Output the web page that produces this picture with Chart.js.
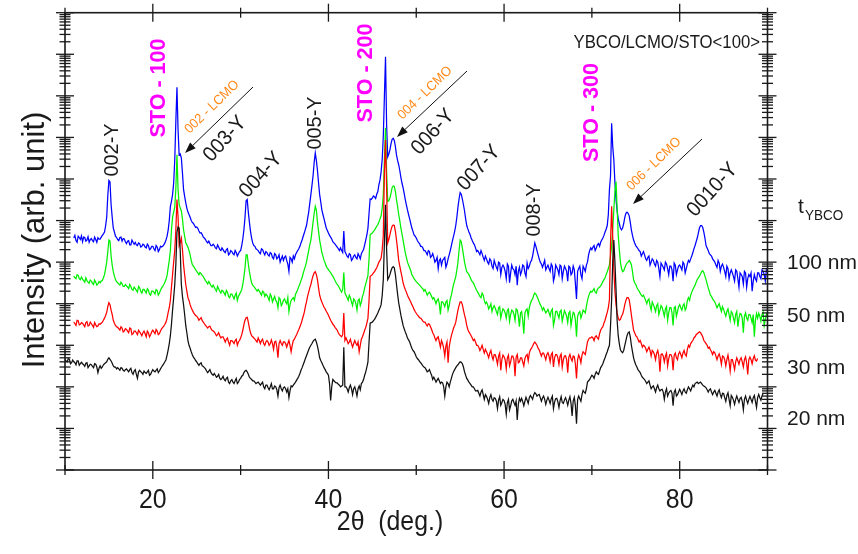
<!DOCTYPE html>
<html><head><meta charset="utf-8">
<script src="https://cdn.jsdelivr.net/npm/chart.js@4.4.1/dist/chart.umd.min.js"></script>
<style>html,body{margin:0;padding:0;background:#fff}#wrap{width:858px;height:554px;position:relative}</style>
</head><body><div id="wrap"><canvas id="c" width="858" height="554"></canvas></div>
<script>
// 2-theta sampling grid A (deg.)
const twoTheta = [
10,10.25,10.5,10.75, 11,11.25,11.5,11.75, 12,12.25,12.5,12.75, 13,13.25,13.5,13.75, 14,14.25,14.5,14.75,
15,15.25,15.5,15.75, 16,16.25,16.5,16.75, 17,17.25,17.5,17.75, 18,18.25,18.5,18.75, 19,19.25,19.5,19.75,
20,20.25,20.5,20.75, 21,21.25,21.5,21.75, 22,22.25,22.5,22.75, 23,23.25,23.5,23.75, 24,24.25,24.5,24.75,
25,25.25,25.5,25.75, 26,26.25,26.5,26.75, 27,27.25,27.5,27.75, 28,28.25,28.5,28.75, 29,29.25,29.5,29.75,
30,30.25,30.5,30.75, 31,31.25,31.5,31.75, 32,32.25,32.5,32.75, 33,33.25,33.5,33.75, 34,34.25,34.5,34.75,
35,35.25,35.5,35.75, 36,36.25,36.5,36.75, 37,37.25,37.5,37.75, 38,38.25,38.5,38.75, 39,39.25,39.5,39.75,
40,40.25,40.5,40.75, 41,41.25,41.5,41.75, 42,42.25,42.5,42.75, 43,43.25,43.5,43.75, 44,44.25,44.5,44.75,
45,45.25,45.5,45.75, 46,46.25,46.5,46.75, 47,47.25,47.5,47.75, 48,48.25,48.5,48.75, 49,49.25,49.5,49.75,
50,50.25,50.5,50.75, 51,51.25,51.5,51.75, 52,52.25,52.5,52.75, 53,53.25,53.5,53.75, 54,54.25,54.5,54.75,
55,55.25,55.5,55.75, 56,56.25,56.5,56.75, 57,57.25,57.5,57.75, 58,58.25,58.5,58.75, 59,59.25,59.5,59.75,
60,60.25,60.5,60.75, 61,61.25,61.5,61.75, 62,62.25,62.5,62.75, 63,63.25,63.5,63.75, 64,64.25,64.5,64.75,
65,65.25,65.5,65.75, 66,66.25,66.5,66.75, 67,67.25,67.5,67.75, 68,68.25,68.5,68.75, 69,69.25,69.5,69.75,
70,70.25,70.5,70.75, 71,71.25,71.5,71.75, 72,72.25,72.5,72.75, 73,73.25,73.5,73.75, 74,74.25,74.5,74.75,
75,75.25,75.5,75.75, 76,76.25,76.5,76.75, 77,77.25,77.5,77.75, 78,78.25,78.5,78.75, 79,79.25,79.5,79.75,
80,80.25,80.5,80.75, 81,81.25,81.5,81.75, 82,82.25,82.5,82.75, 83,83.25,83.5,83.75, 84,84.25,84.5,84.75,
85,85.25,85.5,85.75, 86,86.25,86.5,86.75, 87,87.25,87.5,87.75, 88,88.25,88.5,88.75, 89,89.25,89.5,89.75,
90];
// 2-theta sampling grid B (deg.), between the grid A points
const twoThetaMid = [
10.125,10.375,10.625,10.875, 11.125,11.375,11.625,11.875, 12.125,12.375,12.625,12.875, 13.125,13.375,13.625,13.875, 14.125,14.375,14.625,14.875,
15.125,15.375,15.625,15.875, 16.125,16.375,16.625,16.875, 17.125,17.375,17.625,17.875, 18.125,18.375,18.625,18.875, 19.125,19.375,19.625,19.875,
20.125,20.375,20.625,20.875, 21.125,21.375,21.625,21.875, 22.125,22.375,22.625,22.875, 23.125,23.375,23.625,23.875, 24.125,24.375,24.625,24.875,
25.125,25.375,25.625,25.875, 26.125,26.375,26.625,26.875, 27.125,27.375,27.625,27.875, 28.125,28.375,28.625,28.875, 29.125,29.375,29.625,29.875,
30.125,30.375,30.625,30.875, 31.125,31.375,31.625,31.875, 32.125,32.375,32.625,32.875, 33.125,33.375,33.625,33.875, 34.125,34.375,34.625,34.875,
35.125,35.375,35.625,35.875, 36.125,36.375,36.625,36.875, 37.125,37.375,37.625,37.875, 38.125,38.375,38.625,38.875, 39.125,39.375,39.625,39.875,
40.125,40.375,40.625,40.875, 41.125,41.375,41.625,41.875, 42.125,42.375,42.625,42.875, 43.125,43.375,43.625,43.875, 44.125,44.375,44.625,44.875,
45.125,45.375,45.625,45.875, 46.125,46.375,46.625,46.875, 47.125,47.375,47.625,47.875, 48.125,48.375,48.625,48.875, 49.125,49.375,49.625,49.875,
50.125,50.375,50.625,50.875, 51.125,51.375,51.625,51.875, 52.125,52.375,52.625,52.875, 53.125,53.375,53.625,53.875, 54.125,54.375,54.625,54.875,
55.125,55.375,55.625,55.875, 56.125,56.375,56.625,56.875, 57.125,57.375,57.625,57.875, 58.125,58.375,58.625,58.875, 59.125,59.375,59.625,59.875,
60.125,60.375,60.625,60.875, 61.125,61.375,61.625,61.875, 62.125,62.375,62.625,62.875, 63.125,63.375,63.625,63.875, 64.125,64.375,64.625,64.875,
65.125,65.375,65.625,65.875, 66.125,66.375,66.625,66.875, 67.125,67.375,67.625,67.875, 68.125,68.375,68.625,68.875, 69.125,69.375,69.625,69.875,
70.125,70.375,70.625,70.875, 71.125,71.375,71.625,71.875, 72.125,72.375,72.625,72.875, 73.125,73.375,73.625,73.875, 74.125,74.375,74.625,74.875,
75.125,75.375,75.625,75.875, 76.125,76.375,76.625,76.875, 77.125,77.375,77.625,77.875, 78.125,78.375,78.625,78.875, 79.125,79.375,79.625,79.875,
80.125,80.375,80.625,80.875, 81.125,81.375,81.625,81.875, 82.125,82.375,82.625,82.875, 83.125,83.375,83.625,83.875, 84.125,84.375,84.625,84.875,
85.125,85.375,85.625,85.875, 86.125,86.375,86.625,86.875, 87.125,87.375,87.625,87.875, 88.125,88.375,88.625,88.875, 89.125,89.375,89.625,89.875];

// Intensity (arb. unit), t_YBCO = 100 nm (blue) on grid A
const int100nm = [
null,null,null,null, 3.8e5,3.3e5,4.2e5,3.5e5, 3.1e5,3.9e5,3.4e5,3.0e5, 3.7e5,3.1e5,3.5e5,3.9e5, 3.6e5,4.4e5,5.3e5,1.2e6,
9.2e6,2.4e6,6.6e5,4.2e5, 3.5e5,3.9e5,3.2e5,3.6e5, 2.8e5,3.3e5,2.6e5,3.0e5, 3.0e5,2.5e5,2.8e5,2.4e5, 2.6e5,2.2e5,2.5e5,2.1e5,
2.4e5,1.9e5,2.3e5,2.0e5, 2.3e5,2.6e5,3.4e5,5.9e5, 2.2e6,4.2e6,2.9e7,1.6e9, 3.8e7,3.2e7,5.6e6,2.7e6, 1.6e6,1.2e6,9.0e5,7.6e5,
7.0e5,5.6e5,5.1e5,4.0e5, 3.5e5,2.9e5,2.8e5,2.5e5, 2.5e5,2.1e5,2.3e5,1.9e5, 2.0e5,1.7e5,2.1e5,1.6e5, 1.8e5,1.5e5,1.7e5,1.6e5,
1.9e5,3.6e5,1.2e6,3.2e6, 9.2e5,3.8e5,2.5e5,2.1e5, 1.9e5,1.6e5,2.0e5,1.5e5, 1.7e5,1.4e5,1.6e5,1.2e5, 1.5e5,1.3e5,1.0e5,1.4e5,
1.3e5,1.1e5,6.0e4,1.2e5, 1.4e5,1.5e5,1.9e5,2.4e5, 3.4e5,5.0e5,7.6e5,1.6e6, 4.2e6,1.2e7,4.2e7,1.6e7, 4.2e6,1.8e6,1.1e6,6.6e5,
5.0e5,4.0e5,3.1e5,2.7e5, 2.3e5,1.9e5,1.9e5,5.6e5, 1.6e5,1.3e5,1.5e5,1.2e5, 1.5e5,1.2e5,1.4e5,1.6e5, 2.0e5,3.4e5,6.6e5,3.3e6,
3.5e6,3.7e6,4.3e6,7.3e6, 1.5e7,1.1e8,8.7e9,3.4e7, 5.0e7,9.0e7,8.5e7,3.8e7, 2.2e7,1.1e7,6.2e6,3.2e6, 1.8e6,1.1e6,6.6e5,4.5e5,
3.8e5,3.0e5,2.4e5,2.2e5, 1.9e5,1.5e5,1.8e5,1.4e5, 1.3e5,1.1e5,7.0e4,1.2e5, 1.1e5,1.3e5,9.0e4,1.5e5, 2.5e5,4.2e5,7.6e5,2.1e6,
4.7e6,3.3e6,1.7e6,7.6e5, 5.3e5,3.8e5,2.9e5,2.2e5, 1.9e5,1.5e5,1.6e5,1.1e5, 1.2e5,9.0e4,1.1e5,7.0e4, 9.0e4,6.5e4,9.5e4,7.5e4,
7.5e4,4.0e4,8.0e4,5.5e4, 7.0e4,5.0e4,2.8e4,7.5e4, 6.0e4,8.0e4,4.5e4,7.0e4, 1.0e5,1.4e5,2.9e5,1.9e5, 1.2e5,9.0e4,9.0e4,6.5e4,
8.5e4,6.0e4,8.0e4,4.5e4, 7.5e4,5.0e4,8.0e4,6.0e4, 7.0e4,3.5e4,7.5e4,5.5e4, 6.5e4,1.3e4,7.0e4,5.0e4, 8.0e4,6.0e4,1.0e5,1.9e5,
2.0e5,2.5e5,2.2e5,2.8e5, 3.0e5,3.8e5,5.3e5,7.6e5, 5.6e6,2.2e8,2.9e7,3.2e6, 1.1e6,6.6e5,6.6e5,1.2e6, 1.6e6,1.3e6,5.9e5,3.4e5,
2.5e5,2.1e5,1.8e5,1.6e5, 1.5e5,1.1e5,1.4e5,1.0e5, 1.1e5,8.0e4,1.0e5,4.5e4, 8.5e4,6.5e4,9.0e4,5.0e4, 8.0e4,3.5e4,8.5e4,6.5e4,
8.5e4,6.5e4,9.0e4,7.0e4, 1.1e5,1.2e5,1.7e5,2.5e5, 3.8e5,6.6e5,7.6e5,5.3e5, 2.5e5,1.9e5,1.5e5,1.2e5, 1.0e5,7.5e4,9.5e4,8.0e4,
7.5e4,4.5e4,7.0e4,5.5e4, 5.5e4,3.5e4,6.0e4,2.5e4, 5.0e4,3.0e4,5.5e4,4.0e4, 4.5e4,2.0e4,5.0e4,3.5e4, 5.5e4,4.0e4,6.0e4,3.5e4,
6.0e4];
// t_YBCO = 100 nm on grid B
const int100nmMid = [
null,null,null,null, 4.4e5,3.0e5,3.9e5,4.3e5, 4.0e5,3.2e5,4.1e5,3.5e5, 3.3e5,4.0e5,3.0e5,3.6e5, 4.0e5,4.8e5,7.5e5,4.0e6,
8.5e6,1.2e6,5.3e5,3.9e5, 3.3e5,4.0e5,3.7e5,3.1e5, 3.2e5,2.6e5,3.4e5,2.7e5, 2.6e5,2.9e5,2.3e5,2.7e5, 2.3e5,2.7e5,2.0e5,2.4e5,
2.1e5,2.5e5,1.8e5,2.4e5, 2.4e5,2.9e5,4.2e5,1.0e6, 2.9e6,8.0e6,2.5e8,1.5e8, 4.0e7,1.4e7,3.8e6,2.0e6, 1.4e6,1.0e6,8.5e5,6.8e5,
6.5e5,5.0e5,4.6e5,3.8e5, 3.1e5,3.2e5,2.5e5,2.7e5, 2.2e5,2.6e5,2.0e5,2.2e5, 1.8e5,2.0e5,1.5e5,1.9e5, 1.6e5,1.9e5,1.4e5,1.8e5,
2.5e5,6.0e5,3.0e6,1.6e6, 5.5e5,2.9e5,2.4e5,2.0e5, 1.7e5,2.1e5,1.7e5,1.8e5, 1.5e5,1.7e5,1.3e5,1.6e5, 1.2e5,1.5e5,1.2e5,1.1e5,
1.4e5,9.0e4,1.3e5,1.0e5, 1.2e5,1.7e5,2.1e5,2.9e5, 4.2e5,6.2e5,1.1e6,2.6e6, 7.0e6,2.5e7,2.8e7,8.0e6, 2.8e6,1.4e6,8.5e5,5.8e5,
4.4e5,3.6e5,2.9e5,2.5e5, 2.1e5,2.2e5,1.7e5,1.8e5, 1.4e5,1.6e5,1.1e5,1.4e5, 1.3e5,1.6e5,1.2e5,1.8e5, 2.6e5,4.5e5,1.5e6,3.2e6,
3.9e6,3.4e6,5.0e6,9.5e6, 3.0e7,1.0e9,2.0e8,4.0e7, 7.0e7,9.5e7,6.0e7,2.8e7, 1.6e7,8.0e6,4.5e6,2.4e6, 1.4e6,8.5e5,5.5e5,4.2e5,
3.3e5,2.8e5,2.4e5,1.9e5, 1.7e5,1.9e5,1.3e5,1.6e5, 1.0e5,1.3e5,1.1e5,8.5e4, 1.2e5,7.5e4,1.2e5,1.9e5, 3.3e5,5.5e5,1.2e6,3.3e6,
4.3e6,2.4e6,1.1e6,6.3e5, 4.6e5,3.3e5,2.6e5,1.8e5, 1.7e5,1.9e5,1.3e5,1.4e5, 1.0e5,1.2e5,8.0e4,1.1e5, 7.5e4,1.0e5,5.0e4,8.5e4,
6.0e4,9.0e4,3.2e4,8.5e4, 6.5e4,8.0e4,6.0e4,5.0e4, 8.5e4,5.5e4,9.5e4,8.0e4, 1.1e5,2.0e5,2.4e5,1.5e5, 1.0e5,7.5e4,1.1e5,7.5e4,
7.0e4,9.0e4,3.5e4,8.5e4, 6.5e4,8.5e4,4.0e4,8.0e4, 6.0e4,8.0e4,5.0e4,8.0e4, 3.0e4,6.0e4,8.0e4,4.0e4, 7.0e4,8.5e4,1.5e5,2.2e5,
2.3e5,1.9e5,2.6e5,2.4e5, 3.4e5,4.4e5,6.2e5,1.4e6, 1.2e7,6.0e7,8.0e6,1.7e6, 8.5e5,6.0e5,8.5e5,1.5e6, 1.5e6,9.0e5,4.4e5,2.9e5,
2.3e5,1.9e5,1.4e5,1.8e5, 1.2e5,1.3e5,8.5e4,1.2e5, 9.0e4,1.1e5,7.0e4,9.5e4, 7.5e4,1.0e5,7.0e4,8.0e4, 6.5e4,9.5e4,5.0e4,8.0e4,
7.5e4,1.0e5,5.5e4,9.0e4, 1.0e5,1.4e5,2.1e5,3.1e5, 5.0e5,7.6e5,6.8e5,3.8e5, 2.2e5,1.6e5,1.4e5,1.1e5, 8.5e4,1.1e5,6.0e4,9.0e4,
6.0e4,8.0e4,4.0e4,6.5e4, 4.5e4,6.5e4,4.0e4,5.5e4, 4.5e4,6.0e4,2.5e4,5.0e4, 5.5e4,3.5e4,4.0e4,5.5e4, 4.5e4,6.5e4,5.0e4,6.5e4];

// t_YBCO = 50 nm (green) on grid A
const int50nm = [
null,null,null,null, 4.6e4,4.0e4,4.8e4,3.8e4, 3.9e4,3.3e4,3.6e4,3.1e4, 3.5e4,2.9e4,3.3e4,3.0e4, 3.2e4,3.6e4,5.0e4,1.0e5,
3.4e5,1.4e5,5.9e4,3.8e4, 3.2e4,2.8e4,3.0e4,2.6e4, 2.7e4,2.3e4,2.6e4,2.1e4, 2.3e4,1.9e4,2.4e4,1.8e4, 2.2e4,1.8e4,2.1e4,1.6e4,
2.0e4,1.7e4,2.1e4,1.8e4, 2.4e4,2.9e4,3.8e4,7.3e4, 1.9e5,1.2e6,2.1e6,3.8e7, 2.4e6,1.7e6,6.0e5,2.9e5, 2.3e5,1.5e5,8.7e4,7.3e4,
6.0e4,5.0e4,5.3e4,4.5e4, 3.6e4,3.0e4,3.1e4,2.5e4, 2.5e4,2.0e4,2.3e4,1.8e4, 2.0e4,1.6e4,1.9e4,1.4e4, 1.7e4,1.3e4,1.8e4,1.5e4,
1.9e4,2.9e4,7.3e4,1.5e5, 5.9e4,3.2e4,2.6e4,2.2e4, 2.2e4,1.8e4,2.0e4,1.5e4, 1.6e4,1.2e4,1.5e4,1.3e4, 1.2e4,8.0e3,1.3e4,1.0e4,
1.3e4,1.0e4,6.5e3,1.2e4, 1.4e4,1.7e4,2.2e4,3.0e4, 4.2e4,6.6e4,1.0e5,1.9e5, 3.4e5,9.2e5,2.2e6,9.2e5, 3.4e5,1.7e5,1.1e5,8.0e4,
6.6e4,5.6e4,4.6e4,3.6e4, 2.9e4,2.4e4,1.9e4,5.6e4, 1.6e4,1.2e4,1.4e4,9.0e3, 1.2e4,7.0e3,1.3e4,1.1e4, 1.8e4,3.0e4,4.8e4,4.5e5,
5.0e5,5.9e5,7.3e5,9.2e5, 1.3e6,4.2e6,1.7e8,2.9e6, 3.5e6,6.2e6,6.6e6,3.2e6, 1.4e6,6.6e5,3.4e5,1.7e5, 1.0e5,7.3e4,5.0e4,4.0e4,
3.4e4,3.0e4,2.6e4,2.3e4, 2.2e4,1.6e4,1.9e4,1.5e4, 1.4e4,1.0e4,1.3e4,5.5e3, 1.1e4,8.5e3,1.2e4,9.0e3, 1.6e4,2.9e4,4.5e4,1.0e5,
3.4e5,2.2e5,1.0e5,5.9e4, 5.0e4,3.8e4,3.2e4,2.4e4, 1.9e4,1.5e4,1.8e4,1.2e4, 1.1e4,7.5e3,1.0e4,8.0e3, 7.8e3,5.5e3,8.5e3,6.0e3,
7.0e3,4.5e3,7.5e3,5.5e3, 6.6e3,4.0e3,7.0e3,2.8e3, 6.5e3,1.9e3,7.0e3,5.0e3, 1.0e4,1.3e4,1.8e4,1.5e4, 1.1e4,8.5e3,8.0e3,6.0e3,
7.3e3,5.0e3,7.5e3,4.0e3, 6.6e3,4.5e3,7.0e3,5.0e3, 6.0e3,3.5e3,6.5e3,4.5e3, 5.8e3,1.6e3,6.0e3,4.5e3, 7.0e3,6.0e3,1.2e4,1.8e4,
1.9e4,2.3e4,1.8e4,2.4e4, 2.7e4,3.4e4,4.2e4,5.9e4, 8.7e4,2.5e5,1.8e6,8.7e6, 4.5e5,1.0e5,5.9e4,7.3e4, 9.5e4,1.1e5,8.7e4,3.8e4,
2.9e4,2.2e4,1.8e4,1.5e4, 1.4e4,1.0e4,1.3e4,7.0e3, 9.5e3,6.5e3,1.0e4,7.0e3, 8.2e3,5.0e3,8.5e3,6.0e3, 8.0e3,3.0e3,8.5e3,6.5e3,
9.5e3,7.0e3,1.0e4,8.0e3, 1.4e4,1.6e4,2.2e4,2.8e4, 3.8e4,4.6e4,5.9e4,5.6e4, 3.8e4,2.4e4,1.6e4,1.3e4, 1.1e4,8.0e3,1.0e4,6.5e3,
7.3e3,5.0e3,7.5e3,4.0e3, 5.9e3,3.5e3,6.5e3,4.5e3, 5.6e3,2.0e3,6.0e3,4.0e3, 5.5e3,3.5e3,1.6e3,5.8e3, 5.9e3,3.8e3,6.3e3,4.2e3,
6.2e3];
// t_YBCO = 50 nm on grid B
const int50nmMid = [
null,null,null,null, 4.2e4,5.0e4,4.0e4,4.4e4, 3.6e4,4.2e4,3.3e4,3.7e4, 3.1e4,3.7e4,2.8e4,3.4e4, 3.5e4,4.2e4,7.0e4,1.8e5,
3.2e5,8.5e4,4.6e4,3.4e4, 3.0e4,3.3e4,2.6e4,2.9e4, 2.5e4,2.9e4,2.2e4,2.5e4, 2.1e4,2.6e4,2.0e4,2.2e4, 2.0e4,2.3e4,1.7e4,2.0e4,
1.9e4,2.2e4,1.6e4,2.1e4, 2.6e4,3.3e4,4.8e4,1.1e5, 6.0e5,1.6e6,6.0e6,5.6e6, 2.0e6,1.1e6,4.2e5,2.6e5, 1.9e5,1.1e5,8.0e4,6.6e4,
5.5e4,5.6e4,4.8e4,4.0e4, 3.3e4,3.4e4,2.7e4,2.8e4, 2.2e4,2.6e4,2.0e4,2.1e4, 1.8e4,2.1e4,1.5e4,1.7e4, 1.5e4,1.6e4,1.2e4,1.7e4,
2.2e4,4.5e4,1.5e5,9.0e4, 4.2e4,2.8e4,2.4e4,2.0e4, 2.0e4,1.6e4,1.9e4,1.7e4, 1.4e4,1.7e4,1.1e4,1.5e4, 1.1e4,1.4e4,9.0e3,1.2e4,
1.1e4,1.4e4,9.5e3,1.3e4, 1.2e4,1.9e4,2.6e4,3.6e4, 5.4e4,8.0e4,1.4e5,2.6e5, 5.5e5,1.5e6,1.8e6,5.5e5, 2.4e5,1.4e5,9.5e4,7.2e4,
6.0e4,5.0e4,4.1e4,3.2e4, 2.7e4,2.1e4,2.2e4,1.8e4, 1.4e4,1.6e4,1.1e4,1.3e4, 1.0e4,1.2e4,9.0e3,1.5e4, 2.4e4,3.8e4,1.2e5,4.8e5,
5.5e5,6.6e5,8.0e5,1.1e6, 2.0e6,3.0e7,1.5e7,3.0e6, 4.5e6,6.8e6,5.0e6,2.2e6, 1.0e6,4.8e5,2.4e5,1.3e5, 8.5e4,6.2e4,4.5e4,3.7e4,
3.2e4,2.8e4,2.4e4,2.0e4, 1.9e4,1.8e4,1.7e4,1.3e4, 1.2e4,1.2e4,1.0e4,1.1e4, 1.0e4,1.1e4,7.0e3,1.3e4, 2.2e4,3.6e4,6.5e4,1.9e5,
3.1e5,1.5e5,7.5e4,5.5e4, 4.4e4,3.4e4,2.8e4,2.1e4, 1.7e4,1.4e4,1.6e4,1.0e4, 9.5e3,8.5e3,6.5e3,9.0e3, 6.5e3,8.0e3,4.5e3,7.5e3,
6.0e3,7.0e3,3.8e3,7.0e3, 5.5e3,7.5e3,5.0e3,6.0e3, 4.0e3,6.0e3,7.5e3,8.0e3, 1.2e4,1.6e4,1.7e4,1.3e4, 9.5e3,7.0e3,7.0e3,6.5e3,
6.0e3,6.8e3,3.0e3,6.5e3, 5.5e3,6.5e3,3.8e3,6.8e3, 5.0e3,6.0e3,3.0e3,6.2e3, 4.0e3,5.0e3,6.5e3,5.5e3, 6.5e3,8.5e3,1.5e4,2.0e4,
2.1e4,1.9e4,2.2e4,2.5e4, 3.0e4,3.8e4,5.0e4,7.0e4, 1.4e5,6.0e5,5.0e6,2.0e6, 2.0e5,7.0e4,6.2e4,8.5e4, 1.0e5,1.0e5,6.0e4,3.2e4,
2.5e4,2.0e4,1.6e4,1.6e4, 1.2e4,1.2e4,9.0e3,1.1e4, 8.0e3,9.0e3,5.5e3,9.0e3, 6.5e3,7.5e3,4.0e3,8.0e3, 6.0e3,8.0e3,5.0e3,8.5e3,
8.0e3,9.0e3,7.0e3,1.2e4, 1.2e4,1.9e4,2.5e4,3.3e4, 4.2e4,5.2e4,6.2e4,4.6e4, 3.0e4,2.0e4,1.5e4,1.2e4, 9.5e3,9.0e3,8.0e3,8.5e3,
6.0e3,6.5e3,5.5e3,6.5e3, 4.5e3,5.5e3,2.8e3,5.8e3, 4.5e3,5.0e3,4.5e3,5.5e3, 4.5e3,5.5e3,4.0e3,4.5e3, 5.0e3,5.5e3,3.0e3,5.5e3];

// t_YBCO = 30 nm (red) on grid A
const int30nm = [
null,null,null,null, 3.6e3,3.0e3,3.9e3,3.2e3, 3.4e3,2.8e3,3.7e3,3.0e3, 3.3e3,2.7e3,3.1e3,2.9e3, 3.2e3,3.6e3,4.5e3,6.2e3,
1.06e4,7.0e3,4.0e3,3.0e3, 2.7e3,2.3e3,2.6e3,2.2e3, 2.4e3,2.0e3,2.5e3,1.9e3, 2.2e3,1.8e3,2.1e3,1.7e3, 2.2e3,1.6e3,2.0e3,1.8e3,
2.3e3,1.9e3,2.2e3,1.9e3, 2.5e3,2.9e3,3.6e3,6.2e3, 1.2e4,5.0e4,1.9e5,3.2e6, 2.5e5,3.8e5,8.7e4,2.9e4, 1.4e4,9.5e3,7.0e3,5.6e3,
5.0e3,4.0e3,4.6e3,3.6e3, 3.0e3,2.6e3,2.9e3,2.3e3, 2.1e3,1.7e3,2.0e3,1.5e3, 1.6e3,1.2e3,1.5e3,1.0e3, 1.3e3,1.1e3,1.4e3,1.2e3,
1.5e3,2.3e3,4.0e3,4.7e3, 2.6e3,1.7e3,1.5e3,1.3e3, 1.5e3,1.1e3,1.4e3,1.0e3, 1.3e3,1.0e3,1.35e3,8.0e2, 1.25e3,5.0e2,1.3e3,1.0e3,
1.2e3,9.0e2,1.3e3,7.0e2, 1.3e3,1.6e3,2.1e3,2.8e3, 4.0e3,6.2e3,1.1e4,1.9e4, 2.9e4,4.7e4,5.9e4,3.8e4, 1.6e4,1.1e4,8.2e3,6.6e3,
5.3e3,4.0e3,3.2e3,2.7e3, 2.3e3,1.8e3,1.6e3,6.0e3, 1.5e3,1.1e3,1.4e3,9.0e2, 1.3e3,1.0e3,7.0e2,1.4e3, 1.9e3,2.7e3,4.5e3,4.5e4,
5.0e4,5.9e4,7.3e4,1.0e5, 1.25e5,4.5e5,8.7e7,2.9e5, 4.5e5,7.3e5,7.6e5,3.4e5, 1.1e5,5.9e4,3.2e4,2.2e4, 1.6e4,1.25e4,9.5e3,7.3e3,
5.9e3,5.0e3,4.5e3,3.8e3, 3.6e3,2.9e3,3.2e3,2.4e3, 1.8e3,1.3e3,1.6e3,9.0e2, 1.1e3,5.5e2,1.2e3,9.0e2, 1.7e3,2.6e3,3.6e3,7.0e3,
1.1e4,9.5e3,5.3e3,3.0e3, 2.1e3,1.7e3,1.3e3,1.2e3, 1.0e3,7.5e2,1.0e3,6.5e2, 7.0e2,5.0e2,7.5e2,4.5e2, 5.9e2,3.5e2,6.5e2,4.5e2,
5.3e2,2.7e2,5.8e2,4.0e2, 5.5e2,1.8e2,6.0e2,4.0e2, 5.0e2,3.2e2,5.6e2,4.2e2, 7.8e2,9.5e2,1.2e3,1.0e3, 7.8e2,5.5e2,6.5e2,4.5e2,
6.6e2,4.0e2,6.6e2,5.0e2, 6.0e2,3.5e2,6.2e2,4.5e2, 5.6e2,2.2e2,6.0e2,4.2e2, 5.3e2,1.6e2,5.8e2,3.8e2, 7.0e2,6.0e2,1.2e3,1.5e3,
1.6e3,1.3e3,1.7e3,1.4e3, 2.3e3,2.8e3,4.0e3,6.2e3, 1.25e4,2.2e6,6.6e4,9.5e3, 4.5e3,4.2e3,5.6e3,9.5e3, 1.4e4,1.25e4,5.3e3,2.3e3,
1.7e3,1.4e3,1.3e3,9.0e2, 9.5e2,7.0e2,9.0e2,5.5e2, 7.0e2,4.5e2,7.5e2,2.3e2, 6.2e2,4.0e2,6.5e2,4.8e2, 6.0e2,2.5e2,6.5e2,4.5e2,
7.0e2,5.0e2,7.5e2,5.5e2, 1.0e3,1.1e3,1.3e3,1.6e3, 1.9e3,2.1e3,1.8e3,1.3e3, 1.1e3,8.5e2,7.8e2,6.0e2, 6.6e2,4.5e2,6.2e2,3.5e2,
5.3e2,3.2e2,5.8e2,2.4e2, 4.5e2,2.6e2,5.0e2,3.5e2, 5.0e2,3.0e2,5.3e2,2.0e2, 5.2e2,3.6e2,5.6e2,4.2e2, null,null,null,null,
null];
// t_YBCO = 30 nm on grid B
const int30nmMid = [
null,null,null,null, 3.3e3,4.0e3,3.1e3,3.5e3, 3.1e3,3.5e3,2.9e3,3.6e3, 3.0e3,3.5e3,2.8e3,3.3e3, 3.4e3,4.0e3,5.2e3,8.5e3,
9.5e3,5.5e3,3.4e3,2.8e3, 2.5e3,2.8e3,2.1e3,2.5e3, 2.2e3,2.6e3,1.8e3,2.2e3, 2.0e3,2.3e3,1.9e3,2.0e3, 1.9e3,2.2e3,1.6e3,2.1e3,
2.1e3,2.4e3,1.8e3,2.2e3, 2.7e3,3.2e3,4.5e3,8.0e3, 2.5e4,1.0e5,6.0e5,1.2e6, 3.0e5,2.0e5,5.0e4,2.0e4, 1.2e4,8.0e3,6.2e3,5.2e3,
4.6e3,4.3e3,3.9e3,3.3e3, 2.8e3,2.8e3,2.5e3,2.2e3, 1.9e3,1.8e3,1.7e3,1.6e3, 1.4e3,1.4e3,1.2e3,1.3e3, 1.2e3,1.3e3,1.0e3,1.3e3,
1.8e3,3.2e3,4.6e3,3.6e3, 2.0e3,1.6e3,1.4e3,1.2e3, 1.3e3,1.3e3,1.1e3,1.2e3, 1.2e3,1.1e3,1.1e3,1.2e3, 9.0e2,1.1e3,1.1e3,1.2e3,
1.1e3,1.1e3,1.0e3,1.0e3, 1.4e3,1.8e3,2.4e3,3.3e3, 5.0e3,8.5e3,1.5e4,2.4e4, 3.8e4,5.5e4,5.0e4,2.4e4, 1.3e4,9.5e3,7.5e3,6.0e3,
4.6e3,3.6e3,3.0e3,2.5e3, 2.0e3,1.7e3,1.8e3,1.3e3, 1.3e3,1.2e3,1.1e3,1.1e3, 1.1e3,1.2e3,1.0e3,1.6e3, 2.3e3,3.4e3,1.2e4,4.8e4,
5.5e4,6.6e4,8.5e4,1.1e5, 2.0e5,1.5e7,6.0e6,3.5e5, 6.0e5,7.8e5,5.5e5,2.0e5, 8.0e4,4.4e4,2.6e4,1.9e4, 1.4e4,1.1e4,8.5e3,6.5e3,
5.4e3,4.6e3,4.2e3,3.6e3, 3.2e3,3.3e3,2.8e3,2.0e3, 1.5e3,1.5e3,1.2e3,1.3e3, 8.5e2,9.5e2,3.8e2,1.3e3, 2.1e3,3.0e3,5.0e3,9.0e3,
1.1e4,7.0e3,4.2e3,2.4e3, 1.9e3,1.5e3,1.4e3,1.0e3, 9.0e2,8.5e2,8.0e2,8.0e2, 6.0e2,6.5e2,5.5e2,6.0e2, 4.8e2,5.5e2,2.5e2,5.8e2,
4.5e2,5.0e2,3.2e2,5.5e2, 4.5e2,5.2e2,3.8e2,5.0e2, 4.0e2,4.8e2,6.0e2,6.5e2, 8.5e2,1.1e3,1.1e3,8.5e2, 6.5e2,6.5e2,5.5e2,6.0e2,
5.5e2,6.0e2,3.0e2,6.0e2, 5.0e2,5.5e2,3.0e2,5.5e2, 4.5e2,5.2e2,4.8e2,5.5e2, 3.5e2,4.5e2,5.0e2,5.8e2, 6.5e2,8.5e2,1.4e3,1.5e3,
1.5e3,1.6e3,1.5e3,1.9e3, 2.6e3,3.4e3,5.0e3,8.0e3, 3.0e5,4.0e5,2.0e4,6.0e3, 4.0e3,5.0e3,7.0e3,1.2e4, 1.4e4,8.5e3,3.5e3,2.0e3,
1.6e3,1.2e3,1.1e3,1.0e3, 8.5e2,8.0e2,7.5e2,7.5e2, 6.0e2,6.5e2,5.5e2,6.0e2, 5.5e2,5.5e2,3.2e2,6.0e2, 5.2e2,5.8e2,5.0e2,6.2e2,
6.0e2,6.5e2,6.0e2,8.0e2, 9.0e2,1.2e3,1.5e3,1.8e3, 2.0e3,2.0e3,1.6e3,1.2e3, 1.0e3,9.0e2,7.0e2,7.0e2, 5.5e2,5.5e2,5.0e2,5.5e2,
4.5e2,4.5e2,4.0e2,4.5e2, 3.5e2,4.0e2,4.2e2,4.5e2, 4.0e2,4.5e2,3.8e2,4.5e2, 4.5e2,4.8e2,4.4e2,4.8e2, null,null,null,null];

// t_YBCO = 20 nm (black) on grid A
const int20nm = [
4.5e2,4.0e2,4.6e2,3.8e2, 4.0e2,3.4e2,4.2e2,3.6e2, 3.6e2,3.1e2,3.8e2,3.2e2, 3.4e2,2.9e2,3.5e2,2.2e2, 3.2e2,3.0e2,3.6e2,4.0e2,
5.0e2,4.2e2,3.2e2,3.0e2, 2.9e2,2.5e2,2.8e2,2.4e2, 2.7e2,2.3e2,2.8e2,2.0e2, 2.6e2,1.6e2,2.5e2,2.2e2, 2.4e2,2.1e2,2.5e2,2.0e2,
2.6e2,2.3e2,2.7e2,2.4e2, 3.0e2,3.6e2,4.5e2,7.8e2, 1.7e3,7.0e3,2.9e4,5.3e5, 6.6e5,2.9e4,9.5e3,3.0e3, 1.3e3,8.5e2,5.9e2,4.8e2,
4.0e2,3.3e2,3.8e2,3.1e2, 2.7e2,2.2e2,2.6e2,2.0e2, 2.1e2,1.7e2,2.0e2,1.5e2, 1.8e2,1.4e2,1.7e2,1.2e2, 1.5e2,1.2e2,1.6e2,1.3e2,
1.6e2,1.9e2,2.4e2,2.3e2, 1.7e2,1.5e2,1.4e2,1.2e2, 1.3e2,1.1e2,1.3e2,9.0e1, 1.1e2,8.5e1,1.2e2,9.0e1, 1.0e2,6.0e1,1.1e2,8.0e1,
1.0e2,7.5e1,5.5e1,1.05e2, 1.1e2,1.3e2,1.6e2,2.1e2, 2.9e2,4.0e2,5.6e2,7.8e2, 1.0e3,1.25e3,1.4e3,9.5e2, 5.0e2,3.8e2,2.9e2,2.3e2,
1.9e2,4.7e1,1.5e2,1.3e2, 1.25e2,1.1e2,1.05e2,9.0e2, 1.0e2,7.5e1,1.1e2,6.5e1, 1.0e2,6.0e1,1.05e2,1.2e2, 1.5e2,2.3e2,4.0e2,3.4e3,
3.6e3,4.2e3,5.3e3,7.0e3, 9.5e3,3.8e4,2.4e6,3.8e4, 5.0e4,7.3e4,7.3e4,2.9e4, 1.06e4,5.3e3,3.0e3,2.1e3, 1.5e3,1.2e3,8.5e2,7.0e2,
5.3e2,4.5e2,3.8e2,3.2e2, 2.9e2,2.3e2,2.6e2,1.9e2, 1.7e2,1.3e2,1.6e2,1.2e2, 1.25e2,6.0e1,1.3e2,1.0e2, 1.6e2,2.3e2,2.9e2,3.4e2,
4.0e2,3.6e2,2.3e2,1.6e2, 1.3e2,1.1e2,1.0e2,8.0e1, 8.2e1,6.0e1,8.5e1,5.0e1, 5.9e1,4.0e1,6.5e1,4.5e1, 5.3e1,3.0e1,5.8e1,4.2e1,
4.7e1,2.2e1,5.0e1,3.5e1, 5.0e1,3.6e1,1.6e1,5.3e1, 5.3e1,3.5e1,5.6e1,4.0e1, 6.2e1,5.0e1,7.3e1,6.0e1, 6.6e1,4.5e1,6.0e1,3.8e1,
5.6e1,4.0e1,6.0e1,4.3e1, 5.3e1,3.2e1,5.8e1,4.0e1, 5.5e1,3.6e1,5.8e1,2.0e1, 5.6e1,1.3e1,6.0e1,4.5e1, 8.2e1,7.0e1,1.3e2,1.5e2,
1.9e2,1.6e2,2.3e2,2.0e2, 2.9e2,3.6e2,5.0e2,7.0e2, 1.0e3,1.25e4,3.4e5,2.2e4, 1.7e3,7.8e2,6.6e2,1.0e3, 1.7e3,2.1e3,1.0e3,5.0e2,
3.4e2,2.6e2,2.2e2,1.7e2, 1.5e2,1.2e2,1.4e2,9.0e1, 1.06e2,7.5e1,1.1e2,8.0e1, 8.7e1,5.0e1,9.0e1,7.0e1, 8.2e1,3.5e1,8.5e1,6.5e1,
8.7e1,6.5e1,9.0e1,7.0e1, 1.0e2,8.0e1,1.1e2,1.2e2, 1.3e2,1.25e2,1.2e2,1.05e2, 9.5e1,7.5e1,9.0e1,6.5e1, 8.2e1,6.0e1,8.5e1,5.5e1,
6.9e1,4.5e1,7.2e1,3.5e1, 5.6e1,3.8e1,6.0e1,4.2e1, 5.6e1,2.8e1,6.0e1,4.0e1, 5.9e1,4.2e1,6.2e1,3.2e1, 6.6e1,4.8e1,6.9e1,null,
null];
// t_YBCO = 20 nm on grid B
const int20nmMid = [
4.2e2,4.8e2,3.6e2,4.4e2, 3.8e2,4.2e2,3.3e2,3.9e2, 3.4e2,3.7e2,2.9e2,3.5e2, 3.1e2,3.6e2,3.0e2,2.8e2, 2.8e2,3.4e2,3.8e2,4.6e2,
4.6e2,3.7e2,3.0e2,2.7e2, 2.7e2,2.9e2,2.5e2,2.6e2, 2.5e2,2.6e2,2.2e2,2.4e2, 2.0e2,2.3e2,2.3e2,2.0e2, 2.2e2,2.3e2,1.9e2,2.3e2,
2.4e2,2.5e2,2.2e2,2.7e2, 3.3e2,4.0e2,5.8e2,1.1e3, 3.2e3,1.4e4,9.0e4,7.0e5, 1.8e5,1.5e4,5.5e3,2.0e3, 1.0e3,7.0e2,5.2e2,4.3e2,
3.6e2,3.6e2,3.2e2,2.9e2, 2.4e2,2.4e2,2.2e2,1.9e2, 1.9e2,1.8e2,1.6e2,1.6e2, 1.5e2,1.6e2,1.3e2,1.4e2, 1.3e2,1.4e2,1.2e2,1.5e2,
1.8e2,2.2e2,2.5e2,2.0e2, 1.6e2,1.4e2,1.3e2,1.25e2, 1.2e2,1.2e2,1.0e2,1.1e2, 9.5e1,1.0e2,9.0e1,1.05e2, 8.5e1,9.5e1,9.0e1,9.5e1,
9.0e1,9.0e1,8.0e1,1.0e2, 1.2e2,1.45e2,1.8e2,2.5e2, 3.4e2,4.8e2,6.6e2,9.0e2, 1.1e3,1.35e3,1.2e3,7.0e2, 4.3e2,3.3e2,2.6e2,2.1e2,
1.2e2,1.0e2,1.4e2,1.25e2, 1.15e2,1.0e2,1.1e2,1.0e2, 9.0e1,9.5e1,9.0e1,9.0e1, 8.0e1,9.0e1,8.5e1,1.3e2, 1.9e2,3.0e2,1.2e3,3.5e3,
3.9e3,4.7e3,6.0e3,8.0e3, 1.6e4,3.0e5,2.0e5,4.3e4, 6.2e4,7.8e4,5.0e4,1.7e4, 7.5e3,4.0e3,2.5e3,1.8e3, 1.35e3,1.0e3,7.5e2,6.2e2,
4.8e2,4.1e2,3.5e2,3.0e2, 2.6e2,2.4e2,2.2e2,1.5e2, 1.5e2,1.45e2,1.4e2,1.3e2, 1.0e2,1.0e2,1.2e2,1.3e2, 2.0e2,2.6e2,3.2e2,3.7e2,
3.9e2,3.0e2,1.9e2,1.45e2, 1.2e2,1.0e2,9.0e1,8.0e1, 7.0e1,7.5e1,6.5e1,6.5e1, 5.0e1,5.5e1,5.0e1,5.5e1, 4.5e1,4.8e1,3.6e1,5.0e1,
3.8e1,4.2e1,2.8e1,4.6e1, 4.2e1,4.6e1,3.8e1,4.5e1, 4.4e1,4.5e1,4.8e1,5.5e1, 5.6e1,6.4e1,6.8e1,6.4e1, 5.5e1,5.4e1,5.0e1,4.8e1,
4.8e1,5.2e1,3.0e1,5.2e1, 4.4e1,4.6e1,4.2e1,4.8e1, 4.6e1,4.8e1,4.0e1,4.6e1, 3.5e1,5.0e1,5.2e1,6.5e1, 7.5e1,9.0e1,1.4e2,1.7e2,
1.8e2,2.0e2,2.1e2,2.4e2, 3.2e2,4.3e2,6.0e2,8.5e2, 3.0e3,1.0e5,1.0e5,4.0e3, 1.1e3,7.0e2,7.5e2,1.3e3, 2.0e3,1.6e3,7.0e2,4.0e2,
3.0e2,2.4e2,1.9e2,1.6e2, 1.35e2,1.3e2,1.1e2,1.0e2, 9.0e1,9.5e1,9.0e1,8.5e1, 7.5e1,7.5e1,6.0e1,7.8e1, 7.0e1,7.5e1,6.0e1,7.5e1,
7.6e1,8.0e1,7.5e1,8.5e1, 9.0e1,9.5e1,1.0e2,1.25e2, 1.2e2,1.3e2,1.1e2,1.0e2, 8.5e1,8.5e1,7.5e1,7.5e1, 7.0e1,7.5e1,6.5e1,7.0e1,
5.5e1,6.2e1,5.0e1,6.2e1, 4.8e1,5.0e1,5.0e1,5.2e1, 4.5e1,5.0e1,4.8e1,5.0e1, 5.0e1,5.5e1,4.5e1,5.5e1, 5.5e1,6.0e1,null,null];

const seriesLabels = ['20 nm','30 nm','50 nm','100 nm'];
const xMajorTicks = [20, 40, 60, 80];
const xMinorTicks = [10, 30, 50, 70, 90];
const xTickLabels = ['20', '40', '60', '80'];
const yDecades = [1,1e1,1e2,1e3,1e4,1e5,1e6,1e7,1e8,1e9,1e10,1e11];
const yMinorMultipliers = [2,3,4,5,6,7,8,9];

const FONT = '"Liberation Sans", Arial, Helvetica, sans-serif';
// combine the two sampling grids of one series into a single point list ordered by 2-theta
const pts = (a, b) => twoTheta.map((t, i) => ({x: t, y: a[i]}))
  .concat(twoThetaMid.map((t, i) => ({x: t, y: b[i]})))
  .sort((p, q) => p.x - q.x);

// annotation texts (pixel layout)
const texts = [
  {s:'002-Y', x:112, y:150, size:21, rot:-90, sx:0.95},
  {s:'STO - 100', x:158.5, y:88, size:22, rot:-90, bold:true, color:'#ff00ff', sx:0.98},
  {s:'002 - LCMO', x:212, y:107, size:13.5, rot:-44, color:'#ff8a1a', sx:0.95},
  {s:'003-Y', x:225, y:139, size:21, rot:-48, sx:0.95},
  {s:'004-Y', x:261, y:175, size:21, rot:-48, sx:0.95},
  {s:'005-Y', x:315.5, y:123, size:21, rot:-90, sx:0.95},
  {s:'STO - 200', x:366, y:73, size:22, rot:-90, bold:true, color:'#ff00ff', sx:0.98},
  {s:'004 - LCMO', x:425, y:93, size:13.5, rot:-44, color:'#ff8a1a', sx:0.95},
  {s:'006-Y', x:433, y:132, size:21, rot:-48, sx:0.95},
  {s:'007-Y', x:479, y:168, size:21, rot:-48, sx:0.95},
  {s:'008-Y', x:534, y:210, size:21, rot:-90, sx:0.95},
  {s:'STO - 300', x:592, y:112.5, size:22, rot:-90, bold:true, color:'#ff00ff', sx:0.98},
  {s:'006 - LCMO', x:654, y:164, size:13.5, rot:-44, color:'#ff8a1a', sx:0.95},
  {s:'0010-Y', x:712.5, y:190, size:21, rot:-48, sx:0.95},
  {s:'YBCO/LCMO/STO<100>', x:760, y:43, size:19, align:'right', sx:0.88},
  {s:'t', x:798, y:207, size:21, align:'left'},
  {s:'YBCO', x:805, y:216, size:15, align:'left', sx:0.9},
  {s:'100 nm', x:787, y:263, size:21, align:'left'},
  {s:'50 nm', x:787, y:316, size:21, align:'left'},
  {s:'30 nm', x:787, y:368, size:21, align:'left'},
  {s:'20 nm', x:787, y:419, size:21, align:'left'},
  {s:'2\u03b8  (deg.)', x:390, y:523, size:27, sx:0.92},
  {s:'Intensity (arb. unit)', x:35, y:240, size:31, rot:-90}
];
const arrows = [
  {x1:253, y1:87, x2:185, y2:153},
  {x1:467, y1:71, x2:397, y2:137},
  {x1:702, y1:139, x2:633, y2:204}
];

function drawText(ctx, t) {
  ctx.save();
  ctx.translate(t.x, t.y);
  ctx.rotate((t.rot || 0) * Math.PI / 180);
  ctx.scale(t.sx || 1, 1);
  ctx.font = (t.bold ? 'bold ' : '') + t.size + 'px ' + FONT;
  ctx.fillStyle = t.color || '#1a1a1a';
  ctx.textAlign = t.align || 'center';
  ctx.textBaseline = 'middle';
  ctx.fillText(t.s, 0, 0);
  ctx.restore();
}

const framePlugin = {
  id: 'frame',
  afterDraw(chart) {
    const {ctx, chartArea: a, scales: {x, y}} = chart;
    ctx.save();
    ctx.strokeStyle = '#1a1a1a';
    const seg = (x1, y1, x2, y2) => { ctx.beginPath(); ctx.moveTo(x1, y1); ctx.lineTo(x2, y2); ctx.stroke(); };
    ctx.lineWidth = 1.6;
    ctx.strokeRect(a.left, a.top, a.right - a.left, a.bottom - a.top);
    ctx.lineWidth = 1.3;
    xMajorTicks.forEach(v => { const p = x.getPixelForValue(v); seg(p, a.bottom - 9, p, a.bottom + 9); seg(p, a.top - 9, p, a.top + 9); });
    xMinorTicks.forEach(v => { const p = x.getPixelForValue(v); seg(p, a.bottom - 5, p, a.bottom + 5); seg(p, a.top - 5, p, a.top + 5); });
    yDecades.forEach((d, i) => {
      const p = y.getPixelForValue(d);
      seg(a.left - 9, p, a.left + 9, p); seg(a.right - 9, p, a.right + 9, p);
      if (i < yDecades.length - 1) {
        yMinorMultipliers.forEach(m => {
          const q = y.getPixelForValue(m * d);
          seg(a.left - 5.5, q, a.left + 5.5, q); seg(a.right - 5.5, q, a.right + 5.5, q);
        });
      }
    });
    xMajorTicks.forEach((v, i) => drawText(ctx, {s: xTickLabels[i], x: x.getPixelForValue(v), y: a.bottom + 31, size: 27, sx: 0.92}));
    texts.forEach(t => drawText(ctx, t));
    ctx.strokeStyle = '#111'; ctx.fillStyle = '#111'; ctx.lineWidth = 1;
    arrows.forEach(r => {
      const ang = Math.atan2(r.y2 - r.y1, r.x2 - r.x1);
      const L = 11, W = 4;
      const bx = r.x2 - L * Math.cos(ang), by = r.y2 - L * Math.sin(ang);
      seg(r.x1, r.y1, bx, by);
      ctx.beginPath();
      ctx.moveTo(r.x2, r.y2);
      ctx.lineTo(bx + W * Math.sin(ang), by - W * Math.cos(ang));
      ctx.lineTo(bx - W * Math.sin(ang), by + W * Math.cos(ang));
      ctx.closePath(); ctx.fill();
    });
    ctx.restore();
  }
};

const ds = (label, a, b, color) => ({label, data: pts(a, b), borderColor: color, backgroundColor: color,
  borderWidth: 1.25, pointRadius: 0, tension: 0, fill: false, spanGaps: false});

new Chart(document.getElementById('c'), {
  type: 'line',
  data: {datasets: [
    ds(seriesLabels[0], int20nm, int20nmMid, '#111111'),
    ds(seriesLabels[1], int30nm, int30nmMid, '#ff0000'),
    ds(seriesLabels[2], int50nm, int50nmMid, '#00f000'),
    ds(seriesLabels[3], int100nm, int100nmMid, '#0000ff')
  ]},
  options: {
    responsive: false, animation: false, devicePixelRatio: 1,
    layout: {padding: {left: 65, right: 90.5, top: 12.7, bottom: 84}},
    plugins: {legend: {display: false}, tooltip: {enabled: false}},
    scales: {
      x: {type: 'linear', min: 10, max: 90, display: false},
      y: {type: 'logarithmic', min: 1, max: 1e11, display: false}
    }
  },
  plugins: [framePlugin]
});
</script></body></html>
